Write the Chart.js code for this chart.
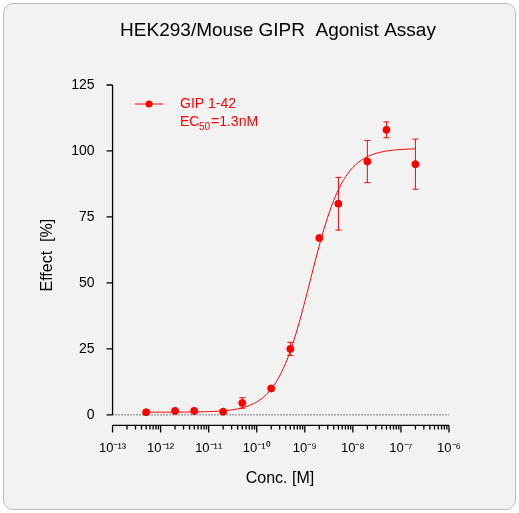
<!DOCTYPE html>
<html>
<head>
<script src="https://cdn.jsdelivr.net/npm/chart.js@4/dist/chart.umd.min.js"></script>
<style>
body { margin: 0; background: #fff; }
#box { position: absolute; left: 3px; top: 3px; width: 511px; height: 505px; background: #f2f2f2; border: 1px solid #bbb; border-radius: 10px; }
canvas { position: absolute; left: 0; top: 0; }
</style>
</head>
<body>
<div id="box"></div>
<canvas id="c" width="519" height="513"></canvas>
<script>
// concentrations (M) and responses
var conc = [5e-13, 2e-12, 5e-12, 2e-11, 5e-11, 2e-10, 5e-10, 2e-9, 5e-9, 2e-8, 5e-8, 2e-7];
var effect = [1, 1.5, 1.5, 1.2, 4.5, 10, 25, 67, 80, 96, 108, 95];
var errs = [0, 0, 0, 0, 2, 0, 2.5, 0, 10, 8, 3, 9.5];
var yTicks = [0, 25, 50, 75, 100, 125];
var xDecades = [-13, -12, -11, -10, -9, -8, -7, -6];
var supers = { "-": "⁻", "0": "⁰", "1": "¹", "2": "²", "3": "³", "6": "⁶", "7": "⁷", "8": "⁸", "9": "⁹" };

// 4PL fit parameters
var fitBottom = 1, fitTop = 101, fitEC50 = 1.3e-9, fitHill = 1.25;
var fit = [];
for (var lg = -12.3; lg <= -6.69; lg += 0.05) {
  var x = Math.pow(10, lg);
  fit.push({ x: x, y: fitBottom + (fitTop - fitBottom) / (1 + Math.pow(fitEC50 / x, fitHill)) });
}

function sup(n) { return "10" + String(n).split("").map(function (c) { return supers[c]; }).join(""); }

var red = "#ff0000";
var FONT = "Arial, 'Liberation Sans'";

var extras = {
  id: "extras",
  afterDatasetsDraw: function (chart) {
    var c = chart.ctx, xs = chart.scales.x, ys = chart.scales.y;
    c.save();
    // titles
    c.fillStyle = "#000"; c.textAlign = "center"; c.textBaseline = "middle";
    c.font = "19px " + FONT;
    c.fillText("HEK293/Mouse GIPR  Agonist Assay", 278, 31);
    c.font = "16px " + FONT;
    c.fillText("Conc. [M]", 280, 479);
    c.textAlign = "left";
    // error bars
    c.strokeStyle = red; c.lineWidth = 1;
    conc.forEach(function (v, i) {
      if (!errs[i]) return;
      var px = xs.getPixelForValue(v);
      var t = ys.getPixelForValue(effect[i] + errs[i]), b = ys.getPixelForValue(effect[i] - errs[i]);
      c.beginPath();
      c.moveTo(px, t); c.lineTo(px, b);
      c.moveTo(px - 3, t); c.lineTo(px + 3, t);
      c.moveTo(px - 3, b); c.lineTo(px + 3, b);
      c.stroke();
    });
    // dotted baseline
    var y0 = ys.getPixelForValue(0);
    c.strokeStyle = "#000"; c.setLineDash([1, 2]);
    c.beginPath(); c.moveTo(xs.left, y0); c.lineTo(xs.right, y0); c.stroke();
    c.setLineDash([]);
    // axes
    c.lineWidth = 1.3;
    c.beginPath();
    c.moveTo(xs.left, ys.getPixelForValue(125)); c.lineTo(xs.left, y0);
    yTicks.forEach(function (t) { var p = ys.getPixelForValue(t); c.moveTo(xs.left - 6, p); c.lineTo(xs.left, p); });
    c.moveTo(xs.left, ys.bottom); c.lineTo(xs.right, ys.bottom);
    xDecades.forEach(function (d, k) {
      for (var m = 1; m < 10; m++) {
        if (m > 1 && k == xDecades.length - 1) break;
        var p = xs.getPixelForValue(m * Math.pow(10, d));
        c.moveTo(p, ys.bottom); c.lineTo(p, ys.bottom + (m == 1 ? 7 : 4));
      }
    });
    c.stroke();
    // legend
    c.strokeStyle = red; c.fillStyle = red; c.lineWidth = 1;
    c.beginPath(); c.moveTo(135, 104); c.lineTo(163, 104); c.stroke();
    c.beginPath(); c.arc(149, 104, 3.5, 0, Math.PI * 2); c.fill();
    c.font = "14px " + FONT;
    c.fillText("GIP 1-42", 180, 104);
    c.fillText("EC", 180, 122);
    c.font = "10px " + FONT;
    c.fillText("50", 199, 127);
    c.font = "14px " + FONT;
    c.fillText("=1.3nM", 211, 122);
    c.restore();
  }
};

new Chart(document.getElementById("c"), {
  type: "scatter",
  data: {
    datasets: [
      {
        data: conc.map(function (v, i) { return { x: v, y: effect[i] }; }),
        backgroundColor: red, borderColor: red, pointRadius: 3.5,
      },
      {
        type: "line", data: fit, borderColor: red, borderWidth: 1,
        pointRadius: 0, tension: 0.3,
      },
    ],
  },
  plugins: [extras],
  options: {
    responsive: false, animation: false,
    layout: { padding: { left: 34, right: 70, top: 85, bottom: 50 } },
    plugins: { legend: { display: false }, tooltip: { enabled: false } },
    scales: {
      x: {
        type: "logarithmic", min: 1e-13, max: 1e-6,
        border: { display: false }, grid: { display: false },
        afterBuildTicks: function (s) { s.ticks = xDecades.map(function (d) { return { value: Math.pow(10, d) }; }); },
        ticks: { color: "#000", padding: 7, maxRotation: 0, autoSkip: false,
          font: { size: 13, family: FONT },
          callback: function (v) { return sup(Math.round(Math.log10(v))); } },
      },
      y: {
        min: -4, max: 125,
        border: { display: false }, grid: { display: false },
        afterBuildTicks: function (s) { s.ticks = yTicks.map(function (v) { return { value: v }; }); },
        ticks: { color: "#000", padding: 10, font: { size: 14, family: FONT } },
        title: { display: true, text: "Effect  [%]", color: "#000", font: { size: 16, family: FONT } },
      },
    },
  },
});
</script>
</body>
</html>
